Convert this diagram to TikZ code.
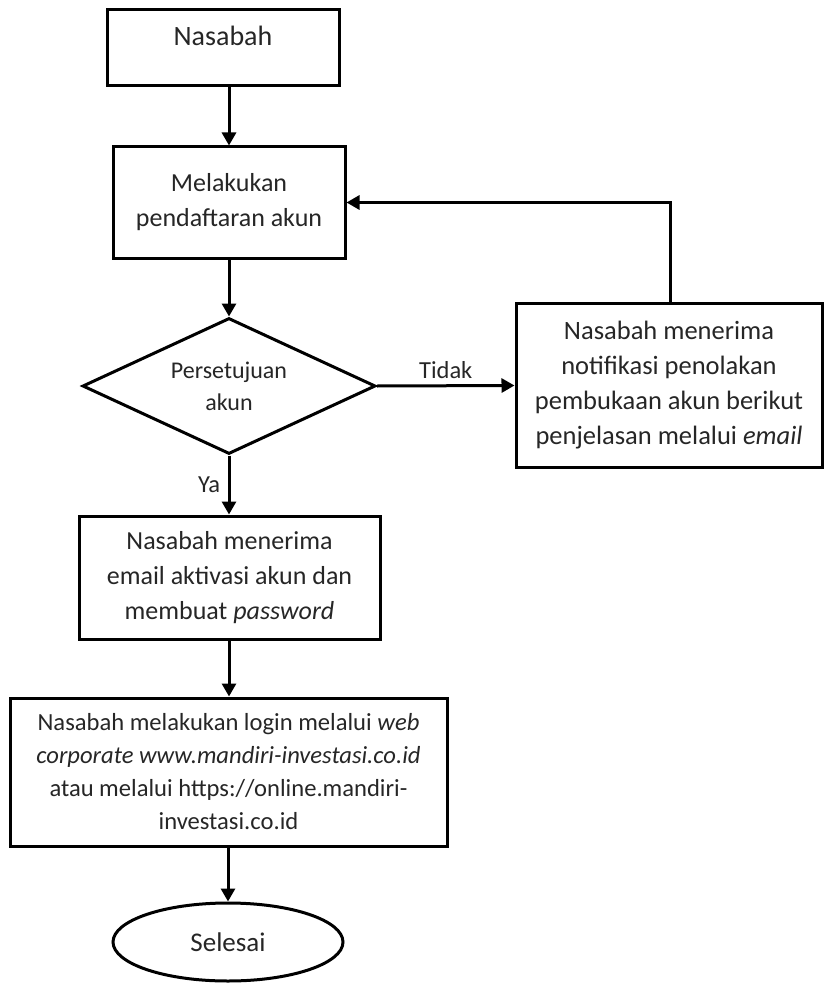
\documentclass[tikz,border=0pt]{standalone}
\usepackage{fontspec}
\setmainfont{Carlito}
\usetikzlibrary{shapes.geometric,arrows.meta}
\begin{document}
\begin{tikzpicture}[x=1pt,y=-1pt,
  txt/.style={font=\fontsize{24.5}{33}\selectfont, text=black!85},
  box/.style={draw, line width=3pt, align=center, inner sep=0pt, txt},
  arr/.style={line width=3pt, -{Triangle[length=13pt,width=14pt]}},
]
\useasboundingbox (0,0) rectangle (825,984);
\node[box, minimum width=232pt, minimum height=76pt] (n1) at (223,47.5) {};
\node[txt, font=\fontsize{28}{33}\selectfont, anchor=base] (n1t) at (223,46) {Nasabah};
\node[box, font=\fontsize{26}{35}\selectfont, minimum width=232pt, minimum height=111pt] (n2) at (229,202.5) {Melakukan\\pendaftaran akun};
\node[box, font=\fontsize{24}{32}\selectfont, diamond, aspect=2.2, minimum width=293pt, minimum height=136pt] (d) at (229,386) {Persetujuan\\akun};
\node[box, font=\fontsize{26.5}{35}\selectfont, minimum width=306pt, minimum height=164pt] (r) at (669,385.5) {Nasabah menerima\\notifikasi penolakan\\pembukaan akun berikut\\penjelasan melalui \textit{email}};
\node[box, font=\fontsize{26}{35}\selectfont, minimum width=301pt, minimum height=123pt] (b3) at (229.5,577.5) {Nasabah menerima\\email aktivasi akun dan\\membuat \textit{password}};
\node[box, font=\fontsize{24.6}{33}\selectfont, minimum width=437pt, minimum height=148pt] (b4) at (228.5,772) {Nasabah melakukan login melalui \textit{web}\\\textit{corporate www.mandiri-investasi.co.id}\\atau melalui https://online.mandiri-\\investasi.co.id};
\node[box, font=\fontsize{27}{33}\selectfont, ellipse, minimum width=230pt, minimum height=78pt] (e) at (228,942) {Selesai};
\draw[arr] (n1.south -| n2.north) -- (n2.north);
\draw[arr] (n2.south) -- (d.north);
\draw[arr] (d.east) -- node[txt, above=2pt] {Tidak} (r.west);
\draw[arr] (r.north -| 670,0) |- (n2.east);
\draw[arr] (d.south) -- node[txt, left=4pt] {Ya} (d.south |- b3.north);
\draw[arr] (b3.south -| d.south) -- (d.south |- b4.north);
\draw[arr] (b4.south -| e.north) -- (e.north);
\end{tikzpicture}
\end{document}
